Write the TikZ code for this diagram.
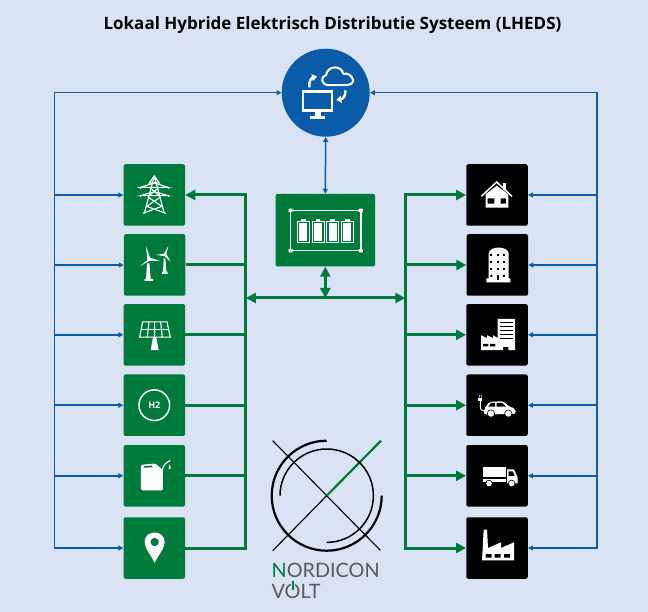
\documentclass[tikz,border=0pt]{standalone}
\usepackage{fontspec}
\setmainfont{Open Sans}
\newfontfamily\logofont{Lato}
\usetikzlibrary{arrows.meta}
\definecolor{bgc}{HTML}{DAE3F3}
\definecolor{grn}{HTML}{007A3B}
\definecolor{blu}{HTML}{0A5CA8}
\tikzset{
 gbox/.style={fill=grn,draw=none,rounded corners=2pt,minimum width=61.5pt,minimum height=61.5pt,inner sep=0pt},
 kbox/.style={gbox,fill=black},
 bw/.style={draw=blu,line width=1.5pt},
 bwa/.style={bw,-{Triangle[length=5pt,width=5pt]}},
 gw/.style={draw=grn,line width=3pt},
 gwa/.style={gw,-{Triangle[length=10pt,width=10pt]}},
 gwb/.style={gw,{Triangle[length=10pt,width=10pt]}-{Triangle[length=10pt,width=10pt]}},
 ico/.style={shift={(#1)},x=.3333pt,y=-.3333pt},
 wl/.style={draw=white,line width=1.1pt},
}
\begin{document}
\begin{tikzpicture}[x=1pt,y=-1pt]
\path[fill=bgc] (0,0) rectangle (648,612);
\useasboundingbox (0,0) rectangle (648,612);
\node[inner sep=0pt] (title) at (332.5,25) {\fontsize{17pt}{20pt}\selectfont\bfseries Lokaal Hybride Elektrisch Distributie Systeem (LHEDS)};
% main nodes
\node[circle,fill=blu,minimum size=88pt,inner sep=0pt] (cloud) at (325.7,92.7) {};
\node[gbox,minimum width=99.5pt,minimum height=72.5pt] (bat) at (325.3,230.2) {};
\node[gbox] (g1) at (154.3,195) {};
\node[gbox] (g2) at (154.7,265) {};
\node[gbox] (g3) at (154.3,334.8) {};
\node[gbox] (g4) at (154.3,405.2) {};
\node[gbox] (g5) at (154.3,475.8) {};
\node[gbox] (g6) at (154.3,548) {};
\node[kbox] (k1) at (497,195) {};
\node[kbox] (k2) at (497.3,265) {};
\node[kbox] (k3) at (497,334.8) {};
\node[kbox] (k4) at (497,405.2) {};
\node[kbox] (k5) at (497,475.8) {};
\node[kbox] (k6) at (497,548) {};
% blue wires
\coordinate (bl) at (54.3,92.7);
\coordinate (br) at (597,92.7);
\draw[bwa] (bl) -- (cloud.west);
\draw[bwa] (br) -- (cloud.east);
\draw[bw,line cap=rect] (bl) -- (g6.west -| bl);
\draw[bw,line cap=rect] (br) -- (k6.east -| br);
\foreach \n in {1,...,6}{
 \draw[bwa] (g\n.west -| bl) -- (g\n.west);
 \draw[bwa] (k\n.east -| br) -- (k\n.east);
}
\draw[bw,{Triangle[length=5pt,width=5pt]}-{Triangle[length=5pt,width=5pt]}] (cloud.south) -- (bat.north);
% green wires
\coordinate (gl) at (245.8,298);
\coordinate (gr) at (405.3,298);
\coordinate (gm) at (325.3,298);
\draw[gw,line cap=rect] (g1.east -| gl) -- (g6.east -| gl);
\draw[gw,line cap=rect] (k1.west -| gr) -- (k6.west -| gr);
\draw[gwa] (g1.east -| gl) -- (g1.east);
\foreach \n in {2,...,6}{ \draw[gw] (g\n.east) -- (g\n.east -| gl); }
\foreach \n in {1,...,6}{ \draw[gwa] (k\n.west -| gr) -- (k\n.west); }
\draw[gwb] (gl) -- (gr);
\draw[gwb] (bat.south) -- (gm);
% cloud icon
\begin{scope}[ico={cloud.center},shift={(-197,-188)}]
 \draw[white,line width=2.8pt] (129,185) rectangle (216,241);
 \fill[white] (166,241) rectangle (182,258);
 \fill[white] (150,257) rectangle (196,266);
 \draw[white,line width=2pt,line join=round] (205,165) .. controls (183,165) and (180,140) .. (198,135) .. controls (203,105) and (245,105) .. (250,132) .. controls (262,125) and (278,140) .. (279,150) .. controls (280,160) and (270,165) .. (262,165) -- cycle;
 \draw[white,line width=2.4pt,-{Triangle[length=5pt,width=7pt]}] (148,172) .. controls (145,155) and (155,143) .. (171,140);
 \draw[white,line width=2.4pt,-{Triangle[length=5pt,width=7pt]}] (256,181) .. controls (258,197) and (248,207) .. (229,210);
\end{scope}
% tower
\begin{scope}[ico={g1.center},shift={(-342,-120)},wl]
 \draw (342,63) -- (312,175) (342,63) -- (372,175);
 \draw (342,63) -- (327,84) -- (357,84) -- cycle;
 \draw (300,97) -- (342,84) -- (384,97) -- cycle;
 \draw (300,122) -- (342,110) -- (384,122) -- cycle;
 \draw (300,97) -- (300,102) (384,97) -- (384,102) (300,122) -- (300,127) (384,122) -- (384,127);
 \draw (328,97) -- (357,122) (356,97) -- (327,122);
 \draw (326,128) -- (365,154) -- (308,175) (358,128) -- (319,154) -- (376,175);
\end{scope}
% wind
\begin{scope}[ico={g2.center},shift={(-342,-330)}]
 \fill[white] (319,325) -- (326,325) -- (330,372) -- (337,372) -- (337,378) -- (312,378) -- (312,372) -- (316,372) -- cycle;
 \fill[white] (320,316) -- (316,274) -- (328,308) -- (357,318) -- (326,318) -- (298,333) -- cycle;
 \fill[white] (369,310) -- (374,310) -- (377,350) -- (381,350) -- (381,357) -- (364,357) -- (364,350) -- (367,350) -- cycle;
 \fill[white] (370,296) -- (383,273) -- (377,297) -- (390,320) -- (371,303) -- (345,300) -- cycle;
\end{scope}
% solar
\begin{scope}[ico={g3.center},shift={(-342,-540)},wl]
 \draw (307,501) -- (380,501) -- (390,547) -- (298,547) -- cycle;
 \draw (303,523) -- (385,523);
 \draw (326,501) -- (321,547) (343,501) -- (343,547) (361,501) -- (366,547);
 \fill[white] (338,548) -- (348,548) -- (355,586) -- (331,586) -- cycle;
\end{scope}
% H2
\begin{scope}[ico={g4.center},shift={(-342,-120)}]
 \draw[white,line width=1.5pt] (342,120) circle (46);
 \node[text=white,inner sep=0pt] (h2) at (342,121) {\fontsize{9pt}{10pt}\selectfont\bfseries H2};
\end{scope}
% can
\begin{scope}[ico={g5.center},shift={(-342,-331)}]
 \fill[white,rounded corners=1.5pt] (302,298) -- (345,294) -- (368,314) -- (368,375) -- (302,375) -- cycle;
 \fill[grn] (311,302) -- (333,300) -- (338,305) -- (313,307) -- cycle;
 \draw[white,line width=1.2pt] (366,314) .. controls (368,298) and (378,291) .. (390,285);
 \fill[white] (388,297) .. controls (384,305) and (383,312) .. (388,312) .. controls (393,312) and (392,305) .. (388,297) -- cycle;
\end{scope}
% pin
\begin{scope}[ico={g6.center},shift={(-342,-548)}]
 \fill[white] (343,593) .. controls (330,565) and (313,550) .. (313,530) .. controls (313,492) and (373,492) .. (373,530) .. controls (373,550) and (356,565) .. (343,593) -- cycle;
 \fill[grn] (343,530) circle (12.5);
\end{scope}
% house
\begin{scope}[ico={k1.center},shift={(-306,-120)}]
 \fill[white] (272,118) -- (305,92) -- (340,118) -- (340,158) -- (317,158) -- (317,146) -- (333,146) -- (333,130) -- (317,130) -- (317,158) -- (298,158) -- (298,130) -- (278,130) -- (278,146) -- (298,146) -- (298,158) -- (272,158) -- cycle;
 \draw[white,line width=1.5pt] (259,124) -- (305,81) -- (351,124);
 \fill[white] (323,84) rectangle (332,106);
\end{scope}
% building
\begin{scope}[ico={k2.center},shift={(-306,-330)}]
 \fill[white] (280,370) -- (280,295) .. controls (282,272) and (338,272) .. (340,295) -- (340,370) -- (345,370) -- (345,382) -- (273,382) -- (273,370) -- cycle;
 \foreach \y in {301,322,343}{ \foreach \x in {288,307,326}{ \fill[black] (\x-3,\y-3) rectangle (\x+3,\y+3);} }
 \fill[black] (285,360) rectangle (291,366) (323,360) rectangle (329,366);
 \fill[black] (304,360) rectangle (310,375);
\end{scope}
% factory-office
\begin{scope}[ico={k3.center},shift={(-306,-540)}]
 \fill[white] (308,492) -- (360,492) -- (360,586) -- (340,586) -- (340,576) -- (324,576) -- (324,586) -- (258,586) -- (258,541) -- (276,550) -- (276,541) -- (294,550) -- (294,541) -- (308,550) -- cycle;
 \foreach \y in {503,515,527,539,551}{ \fill[black] (315,\y-2.5) rectangle (353,\y+2.5);}
 \fill[black] (264,567) rectangle (280,575) (285,567) rectangle (301,575);
\end{scope}
% car
\begin{scope}[ico={k4.center},shift={(-306,-120)}]
 \fill[white,rounded corners=2pt] (267,148) -- (267,132) -- (283,110) -- (326,108) -- (342,124) -- (361,130) -- (362,146) -- (267,148) -- cycle;
 \fill[black] (280,124) -- (288,113) -- (300,113) -- (300,124) -- cycle;
 \fill[black] (305,113) -- (322,113) -- (333,124) -- (305,124) -- cycle;
 \fill[white] (288,145) circle (11) (340,145) circle (11);
 \draw[black,line width=.6pt] (288,145) circle (11) (340,145) circle (11);
 \draw[white,line width=.9pt] (256,105) -- (256,125) .. controls (256,135) and (262,137) .. (268,137);
 \fill[white] (250,97) rectangle (262,106);
 \fill[white] (252,90) rectangle (254,97) (258,90) rectangle (260,97);
\end{scope}
% truck
\begin{scope}[ico={k5.center},shift={(-306,-332)}]
 \fill[white] (263,306) rectangle (332,337);
 \fill[white] (263,341) rectangle (332,352);
 \fill[white] (336,313) -- (357,313) -- (368,337) -- (368,355) -- (336,355) -- cycle;
 \fill[black] (341,319) -- (353,319) -- (359,332) -- (341,332) -- cycle;
 \fill[white] (282,355) circle (10) (350,355) circle (10);
 \draw[black,line width=.6pt] (282,355) circle (10) (350,355) circle (10);
\end{scope}
% factory
\begin{scope}[ico={k6.center},shift={(-306,-548)}]
 \fill[white] (266,493) -- (276,493) -- (279,548) -- (318,531) -- (318,548) -- (357,531) -- (357,585) -- (261,585) -- cycle;
 \fill[black] (272,566) rectangle (290,577) (299,566) rectangle (317,577) (327,566) rectangle (345,577);
\end{scope}
% battery
\begin{scope}[ico={bat.center},shift={(-256,-135.5)}]
 \draw[white,line width=1.1pt] (152,76) rectangle (363,197);
 \fill[white] (146,71) rectangle (158,81) (357,71) rectangle (369,81) (146,192) rectangle (158,202) (357,192) rectangle (369,202);
 \foreach \x in {172,216,260,304}{
  \draw[white,line width=.7pt] (\x,108) rectangle (\x+36,173);
  \fill[white] (\x+11,102) rectangle (\x+25,108);
  \fill[white] (\x+6,114) rectangle (\x+30,167);
 }
\end{scope}
% logo
\begin{scope}[shift={(326.7,495.7)},x=1pt,y=1pt]
 \coordinate (lc) at (0,0);
 \draw[black,line width=1.1pt] (-54,55) -- (53.5,-54.5);
 \draw[black,line width=1.1pt] (-54,-55) -- (lc);
 \draw[grn,line width=2.2pt] (lc) -- (54.3,55);
 \draw[black,line width=1.5pt] (-46.7,0) arc[start angle=180,end angle=-90,radius=46.7];
 \draw[black,line width=2.2pt] (0,55) arc[start angle=90,end angle=360,radius=55];
\end{scope}
\node[inner sep=0pt,anchor=west,text=black!65] (ln) at (271.5,570.5) {\logofont\fontsize{19.8pt}{20pt}\selectfont\textcolor{grn}{N}ORDICON};
\node[inner sep=0pt,anchor=west,text=black!65] (lv) at (271.5,591.5) {\logofont\fontsize{19.8pt}{20pt}\selectfont VOLT};
\fill[bgc] (291.3,581) rectangle (294.7,586);
\fill[grn] (292.4,580.5) rectangle (293.6,590);
\end{tikzpicture}
\end{document}
